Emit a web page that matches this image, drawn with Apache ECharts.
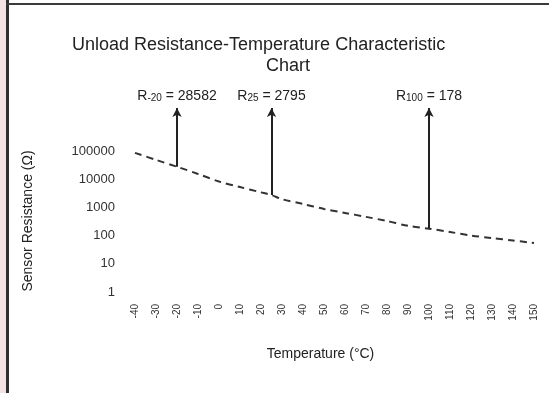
<!DOCTYPE html>
<html>
<head>
<meta charset="utf-8">
<script src="https://cdn.jsdelivr.net/npm/echarts@6/dist/echarts.min.js"></script>
<style>
  html, body { margin: 0; padding: 0; background: #fff; }
  #chart { width: 549px; height: 393px; }
</style>
</head>
<body>
<div id="chart"></div>
<script>
// temperature (°C) and resistance (Ω)
const temps = [-40, -30, -20, -10, 0, 10, 20, 25, 30, 40, 50, 60, 70, 80, 90, 100, 110, 120, 130, 140, 150];
const resistances = [89000, 50000, 28582, 15800, 8500, 5400, 3500, 2795, 2000, 1350, 900, 650, 470, 335, 225, 178, 136, 102, 83, 68, 55];

// marked points
const markTemps = [-20, 25, 100];
const markValues = [28582, 2795, 178];
const markSubs = ["-20", "25", "100"];

const yTickLabels = ["1", "10", "100", "1000", "10000", "100000"];
const yTop = 3500000;

let myChart = echarts.init(document.getElementById("chart"));

let markData = markTemps.map(function (t, i) {
  return [{ coord: [t, markValues[i]] }, { coord: [t, yTop] }];
});

let option = {
  animation: false,
  backgroundColor: "#fff",
  title: [
    {
      text: "Unload Resistance-Temperature Characteristic",
      left: 72,
      top: 36,
      padding: 0,
      textStyle: { fontSize: 18, fontWeight: "normal", color: "#222", fontFamily: "Liberation Sans" },
    },
    {
      text: "Chart",
      left: 266,
      top: 57,
      padding: 0,
      textStyle: { fontSize: 18, fontWeight: "normal", color: "#222", fontFamily: "Liberation Sans" },
    },
  ],
  graphic: [
    { type: "rect", shape: { x: 0, y: 0, width: 6, height: 393 }, style: { fill: "#f3e2e3" } },
    { type: "rect", shape: { x: 6, y: 0, width: 3, height: 393 }, style: { fill: "#2e2e2e" } },
    { type: "rect", shape: { x: 6, y: 3, width: 543, height: 2 }, style: { fill: "#3a3a3a" } },
  ],
  grid: {
    left: 135,
    right: 15,
    top: 108,
    bottom: 101,
  },
  xAxis: {
    type: "value",
    min: -40,
    max: 150,
    interval: 10,
    name: "Temperature (°C)",
    nameLocation: "middle",
    nameGap: 55,
    nameTextStyle: { fontSize: 14, color: "#222", fontFamily: "Liberation Sans", padding: [0, 28, 0, 0] },
    axisLine: { show: false },
    axisTick: { show: false },
    splitLine: { show: false },
    axisLabel: {
      rotate: 90,
      margin: 12,
      fontSize: 10,
      color: "#333",
      fontFamily: "Liberation Sans",
    },
  },
  yAxis: {
    type: "log",
    logBase: 10,
    min: 1,
    max: yTop,
    interval: 1,
    name: "Sensor Resistance (Ω)",
    nameLocation: "middle",
    nameGap: 100,
    nameTextStyle: { fontSize: 14, color: "#222", fontFamily: "Liberation Sans", padding: [0, 42, 0, 0] },
    axisLine: { show: false },
    axisTick: { show: false },
    splitLine: { show: false },
    axisLabel: {
      margin: 20,
      fontSize: 13,
      color: "#333",
      fontFamily: "Liberation Sans",
      formatter: function (value) {
        let idx = Math.round(Math.log10(value));
        return idx >= 0 && idx < yTickLabels.length ? yTickLabels[idx] : "";
      },
    },
  },
  series: [
    {
      type: "line",
      data: temps.map(function (t, i) {
        return [t, resistances[i]];
      }),
      smooth: 0.3,
      showSymbol: false,
      lineStyle: { color: "#333", width: 2, type: [7, 5] },
      markLine: {
        silent: true,
        symbol: ["none", "arrow"],
        symbolSize: [7, 9],
        lineStyle: { type: "solid", color: "#222", width: 2 },
        label: {
          show: true,
          position: "end",
          distance: 5,
          formatter: function (p) {
            let i = p.dataIndex;
            return "{r|R}{s|" + markSubs[i] + "}{r| = " + markValues[i] + "}";
          },
          rich: {
            r: { fontSize: 14, color: "#222", fontFamily: "Liberation Sans" },
            s: { fontSize: 10, color: "#222", fontFamily: "Liberation Sans", padding: [4, 0, 0, 0] },
          },
        },
        data: markData,
      },
    },
  ],
};

myChart.setOption(option);
</script>
</body>
</html>
